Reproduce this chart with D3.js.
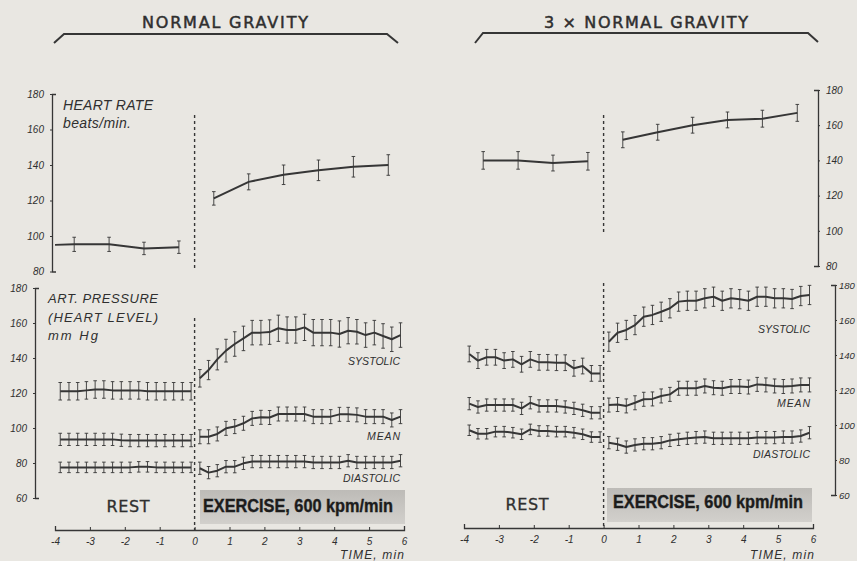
<!DOCTYPE html>
<html lang="en">
<head>
<meta charset="UTF-8">
<title>Heart rate and arterial pressure</title>
<script src="https://d3js.org/d3.v7.min.js"></script>
<style>
    body { margin: 0; background: #e9e7e2; }
    svg text { fill: #2f2f2f; }
</style>
</head>
<body>
<div id="my_dataviz"></div>
<script>

// ---- time points (min) ----
var hrRestTimesN = [-4, -3.45, -2.45, -1.45, -0.45]
var hrRestTimes3 = [-3.45, -2.45, -1.45, -0.45]
var hrExTimes = [0.55, 1.55, 2.55, 3.55, 4.55, 5.55]
var bpRestTimes = [-3.85, -3.6, -3.35, -3.1, -2.85, -2.6, -2.35, -2.1, -1.85, -1.6, -1.35, -1.1, -0.85, -0.6, -0.35, -0.1]
var bpExTimes = [0.15, 0.4, 0.65, 0.9, 1.15, 1.4, 1.65, 1.9, 2.15, 2.4, 2.65, 2.9, 3.15, 3.4, 3.65, 3.9, 4.15, 4.4, 4.65, 4.9, 5.15, 5.4, 5.65, 5.9]

// ---- heart rate, beats/min ----
var hrRestN = [95, 95.3, 95.3, 93, 93.7]
var hrRestErrN = [0, 4, 4, 3.5, 3.5]
var hrExN = [121.2, 130.5, 134.5, 137, 139, 140]
var hrExErrN = [3.8, 4.5, 5.5, 5.8, 5.8, 5.8]
var hrRest3 = [140, 140, 138.5, 139.5]
var hrRestErr3 = [5, 5, 4.5, 5]
var hrEx3 = [151.7, 156, 160, 163, 163.7, 167]
var hrExErr3 = [4.5, 4.5, 4.5, 4.5, 4.8, 4.8]

// ---- arterial pressure, mm Hg : normal gravity ----
var sysRestN = [121, 121, 121, 121.5, 122, 122, 121.5, 121.5, 121.5, 121.5, 121, 121, 121, 121, 121, 121]
var meanRestN = [93.5, 93.5, 93.5, 93.5, 93.5, 93.5, 93.5, 93, 92.8, 92.8, 92.8, 92.8, 92.8, 92.8, 92.8, 92.8]
var diaRestN = [77.5, 77.5, 77.5, 77.5, 77.5, 77.5, 77.5, 77.5, 77.5, 77.8, 77.8, 77.5, 77.5, 77.5, 77.5, 77.5]
var sysExN = [128.4, 133.1, 139.2, 144.2, 148, 151.2, 154.5, 154.5, 154.8, 157, 156, 156, 157.5, 154.5, 154.5, 154.5, 153.7, 155.6, 155, 153.1, 154.5, 152.6, 150.7, 153.1]
var sysExErrN = [5, 5.5, 6, 6.5, 7, 7, 7, 7, 7, 7.5, 7.5, 7.5, 7.5, 7.5, 7.5, 7.5, 7.5, 7.5, 7, 7, 7, 7, 7, 7]
var meanExN = [95, 95, 96.6, 99.8, 100.8, 102.7, 105.5, 106.1, 106, 108, 108, 108, 108, 106.5, 106.5, 106.5, 107.8, 107.8, 107.5, 106.5, 106.5, 106.5, 104.6, 106.5]
var diaExN = [77, 74.5, 75.6, 77.9, 77.9, 79.8, 80.8, 80.8, 80.8, 80.8, 80.8, 80.8, 80.8, 80.3, 80.3, 80.3, 80.3, 81.3, 80.3, 80.3, 80.3, 80.3, 80.3, 81.3]

// ---- arterial pressure, mm Hg : 3 x normal gravity ----
var sysRest3 = [140.6, 136.8, 138.7, 138.7, 136.8, 137.5, 134.7, 137.5, 135.8, 135.8, 135.6, 135.6, 132.4, 133.7, 129.5, 129.5]
var meanRest3 = [112.2, 110.3, 111.4, 111.4, 111.4, 111.4, 109.5, 112.7, 110.9, 110.9, 110.9, 110.3, 109.5, 108.4, 107, 107]
var diaRest3 = [97, 95, 95, 96.2, 96.2, 95.6, 94.7, 97.5, 96.6, 96.6, 96.2, 96.2, 95.6, 94.7, 93.1, 93.1]
var sysEx3 = [147.6, 152.7, 154.3, 157.1, 161.9, 162.9, 164.7, 166.7, 170.5, 171, 171, 172.4, 173.3, 171, 172.4, 171.9, 171, 173.3, 173.3, 172.4, 172.4, 172, 173.7, 174.3]
var meanEx3 = [111.4, 111.7, 110.9, 112.7, 114.7, 114.9, 116.6, 117.5, 121, 121, 121, 122.3, 121.3, 121, 122, 122, 121.7, 123.2, 122.9, 122.3, 122, 122.3, 122.9, 122.9]
var diaEx3 = [89.9, 89, 87.4, 88.6, 89.3, 89.3, 89.9, 91.2, 91.8, 92.4, 92.8, 93.1, 92.4, 92.4, 92.4, 92.4, 92.4, 92.8, 92.8, 92.8, 93.1, 93.1, 93.7, 95.6]

// ---- axes / labels ----
var timeTicks = [-4, -3, -2, -1, 0, 1, 2, 3, 4, 5, 6]
var hrTicks = [80, 100, 120, 140, 160, 180]
var bpTicks = [60, 80, 100, 120, 140, 160, 180]
var titles = ["NORMAL  GRAVITY", "3 \u00d7 NORMAL  GRAVITY"]

var width = 857
var height = 561
var ink = "#363636"

var svg = d3.select("#my_dataviz")
    .append("svg")
    .attr("width", width)
    .attr("height", height)

svg.append("rect").attr("width", width).attr("height", height).attr("fill", "#e9e7e2")

var grad = svg.append("defs").append("linearGradient")
    .attr("id", "boxGrad").attr("x1", 0).attr("y1", 0).attr("x2", 0).attr("y2", 1)
grad.append("stop").attr("offset", "0%").attr("stop-color", "#bdbbb7")
grad.append("stop").attr("offset", "100%").attr("stop-color", "#d2d0cc")

// text helper
function label(txt, x, y, o) {
    o = o || {}
    var t = svg.append("text")
        .attr("x", x).attr("y", y)
        .text(txt)
        .style("font-family", o.family || "'Liberation Sans', sans-serif")
        .style("font-size", (o.size || 12) + "px")
        .style("font-style", o.italic ? "italic" : "normal")
        .style("font-weight", o.bold ? "bold" : "normal")
        .attr("text-anchor", o.anchor || "start")
    if (o.len) t.attr("textLength", o.len).attr("lengthAdjust", o.adjust || "spacing")
    if (o.heavy) t.style("stroke", o.color || "#2f2f2f").style("stroke-width", o.heavy)
    if (o.color) t.style("fill", o.color)
    return t
}

// one series: line + error bars
function drawSeries(g, x, y, t, v, e, w) {
    var pts = t.map(function (d, i) {
        return { t: d, v: v[i], e: (typeof e === "number") ? e : e[i] }
    })
    g.append("path")
        .datum(pts)
        .attr("fill", "none")
        .attr("stroke", ink)
        .attr("stroke-width", w)
        .attr("stroke-linejoin", "round")
        .attr("d", d3.line().x(function (d) { return x(d.t) }).y(function (d) { return y(d.v) }))

    var bars = g.selectAll(null)
        .data(pts.filter(function (d) { return d.e > 0 }))
        .enter().append("g")
        .attr("stroke", ink)
        .attr("stroke-width", 0.9)
    bars.append("line")
        .attr("x1", function (d) { return x(d.t) }).attr("x2", function (d) { return x(d.t) })
        .attr("y1", function (d) { return y(d.v - d.e) }).attr("y2", function (d) { return y(d.v + d.e) })
    bars.append("line")
        .attr("x1", function (d) { return x(d.t) - 1.8 }).attr("x2", function (d) { return x(d.t) + 1.8 })
        .attr("y1", function (d) { return y(d.v + d.e) }).attr("y2", function (d) { return y(d.v + d.e) })
    bars.append("line")
        .attr("x1", function (d) { return x(d.t) - 1.8 }).attr("x2", function (d) { return x(d.t) + 1.8 })
        .attr("y1", function (d) { return y(d.v - d.e) }).attr("y2", function (d) { return y(d.v - d.e) })
}

function styleAxis(g) {
    g.select(".domain").attr("stroke", ink).attr("stroke-width", 1.3)
    g.selectAll(".tick line").attr("stroke", ink).attr("stroke-width", 1)
    g.selectAll("text")
        .attr("fill", "#333")
        .style("font-family", "'Liberation Sans', sans-serif")
        .style("font-style", "italic")
        .style("font-size", "10px")
}

// layout of the two panels
var panels = [
    {
        x: [55, 404], hrY: [271.5, 94], bpY: [498, 288], hrAxisX: 52, bpAxisX: 35, side: "left",
        bpPad: 6, xAxisY: 530, hrDash: [115, 268], bpDash: [318, 530], box: [200, 490, 205, 34],
        rest: [128, 512], ex: [203, 512], time: [404, 559], title: [225, 28, 166],
        bracket: [[54, 43], [64, 34], [387, 34], [398, 43]],
        hr: [[hrRestTimesN, hrRestN, hrRestErrN], [hrExTimes, hrExN, hrExErrN]],
        bp: [[bpRestTimes, sysRestN, 5], [bpRestTimes, meanRestN, 3.5], [bpRestTimes, diaRestN, 3],
             [bpExTimes, sysExN, sysExErrN], [bpExTimes, meanExN, 4], [bpExTimes, diaExN, 3.5]],
        hrLabel: [63, 110], bpLabel: [48, 303],
        names: [[400, 365], [400, 440], [400, 482]]
    },
    {
        x: [464, 813], hrY: [266, 90], bpY: [495, 285], hrAxisX: 818, bpAxisX: 835, side: "right",
        bpPad: 2, xAxisY: 528, hrDash: [115, 232], bpDash: [283, 528], box: [607, 488, 205, 34],
        rest: [527, 510], ex: [613, 508], time: [814, 559], title: [646, 28, 204],
        bracket: [[475, 43], [483, 33], [808, 33], [818, 42]],
        hr: [[hrRestTimes3, hrRest3, hrRestErr3], [hrExTimes, hrEx3, hrExErr3]],
        bp: [[bpRestTimes, sysRest3, 4.5], [bpRestTimes, meanRest3, 3.5], [bpRestTimes, diaRest3, 3],
             [bpExTimes, sysEx3, 5.5], [bpExTimes, meanEx3, 4], [bpExTimes, diaEx3, 3.5]],
        hrLabel: null, bpLabel: null,
        names: [[810, 333], [810, 407], [810, 458]]
    }
]

panels.forEach(function (p, pi) {
    var x = d3.scaleLinear().domain([-4, 6]).range(p.x)
    var yHr = d3.scaleLinear().domain([80, 180]).range(p.hrY)
    var yBp = d3.scaleLinear().domain([60, 180]).range(p.bpY)

    // title + bracket
    label(titles[pi], p.title[0], p.title[1], {
        family: "'DejaVu Sans', sans-serif", size: 16, anchor: "middle", len: p.title[2], heavy: 0.5
    })
    svg.append("path")
        .attr("d", d3.line()(p.bracket))
        .attr("fill", "none").attr("stroke", ink).attr("stroke-width", 2)

    // exercise box
    svg.append("rect")
        .attr("x", p.box[0]).attr("y", p.box[1]).attr("width", p.box[2]).attr("height", p.box[3])
        .attr("fill", "url(#boxGrad)")

    // dashed line at time 0
    ;[p.hrDash, p.bpDash].forEach(function (d) {
        svg.append("line")
            .attr("x1", x(0)).attr("x2", x(0)).attr("y1", d[0]).attr("y2", d[1])
            .attr("stroke", ink).attr("stroke-width", 1.4).attr("stroke-dasharray", "3,3")
    })

    // y axes
    var axHr = p.side === "left" ? d3.axisLeft(yHr) : d3.axisRight(yHr)
    axHr.tickValues(hrTicks).tickSizeInner(2).tickSizeOuter(-4).tickPadding(6)
    svg.append("g").attr("transform", "translate(" + p.hrAxisX + ",0)").call(axHr).call(styleAxis)

    var axBp = p.side === "left" ? d3.axisLeft(yBp) : d3.axisRight(yBp)
    axBp.tickValues(bpTicks).tickSizeInner(2).tickSizeOuter(-4).tickPadding(p.bpPad)
    var gBp = svg.append("g").attr("transform", "translate(" + p.bpAxisX + ",0)").call(axBp).call(styleAxis)
    if (p.side === "right") gBp.selectAll("text").style("font-size", "9.5px")

    // time axis
    var axT = d3.axisBottom(x).tickValues(timeTicks)
        .tickSizeInner(-3).tickSizeOuter(-4).tickPadding(8)
        .tickFormat(function (d) { return String(d) })
    svg.append("g").attr("transform", "translate(0," + p.xAxisY + ")").call(axT).call(styleAxis)

    // series
    var g = svg.append("g")
    p.hr.forEach(function (s) { drawSeries(g, x, yHr, s[0], s[1], s[2], 2) })
    p.bp.forEach(function (s) { drawSeries(g, x, yBp, s[0], s[1], s[2], 2) })

    // labels
    label("REST", p.rest[0], p.rest[1], { family: "'DejaVu Sans', sans-serif", size: 16, anchor: "middle", len: 43, heavy: 0.3 })
    label("EXERCISE, 600 kpm/min", p.ex[0], p.ex[1], {
        family: "'Liberation Sans Narrow', 'Liberation Sans', sans-serif", size: 18, bold: true,
        len: 190, adjust: "spacingAndGlyphs", color: "#1c1c1c", heavy: 0.4
    })
    label("TIME, min", p.time[0], p.time[1], { size: 12, italic: true, anchor: "end", len: 64 })

    var nm = ["SYSTOLIC", "MEAN", "DIASTOLIC"]
    var nmLen = [52, 33, 57]
    p.names.forEach(function (n, i) {
        label(nm[i], n[0], n[1], { size: 10.5, italic: true, anchor: "end", len: nmLen[i] })
    })

    if (p.hrLabel) {
        label("HEART RATE", p.hrLabel[0], p.hrLabel[1], { size: 14, italic: true, len: 90 })
        label("beats/min.", p.hrLabel[0], p.hrLabel[1] + 18, { size: 14, italic: true, len: 68 })
    }
    if (p.bpLabel) {
        label("ART. PRESSURE", p.bpLabel[0], p.bpLabel[1], { size: 13, italic: true, len: 110 })
        label("(HEART LEVEL)", p.bpLabel[0], p.bpLabel[1] + 19, { size: 13, italic: true, len: 110 })
        label("mm  Hg", p.bpLabel[0], p.bpLabel[1] + 37, { size: 13, italic: true, len: 50 })
    }
})

</script>
</body>
</html>
